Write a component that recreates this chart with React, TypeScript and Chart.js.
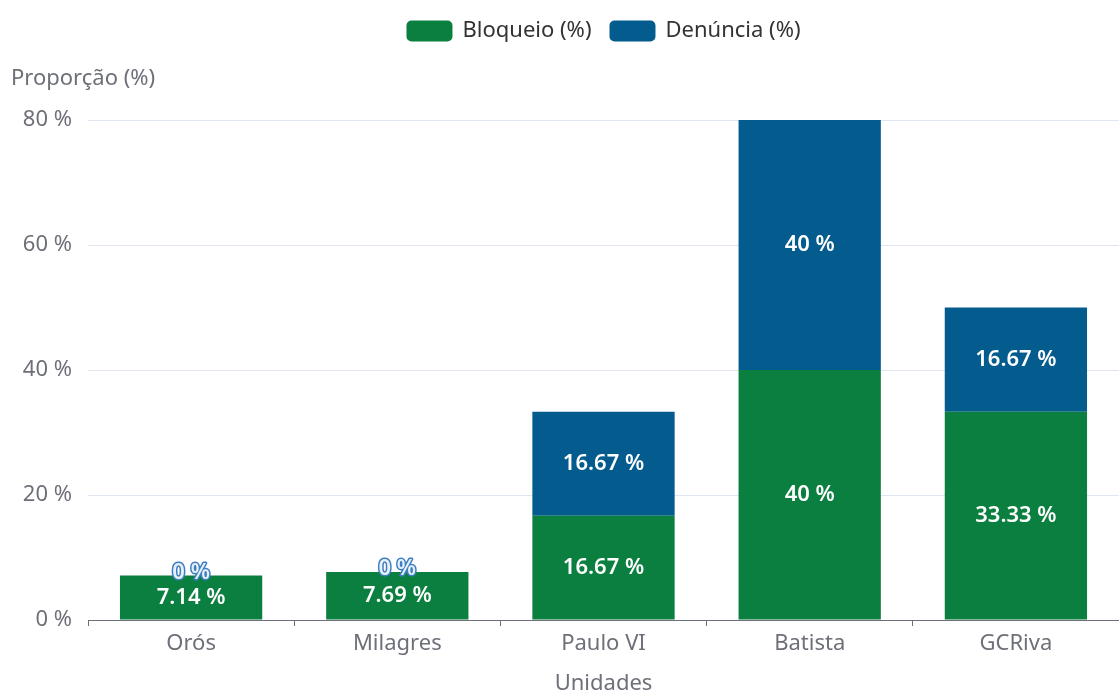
import React, { useEffect, useRef } from "react";
import { Chart, registerables } from "chart.js";

Chart.register(...registerables);

const categories = ["Orós", "Milagres", "Paulo VI", "Batista", "GCRiva"];
const bloqueio = [7.14, 7.69, 16.67, 40, 33.33];
const denuncia = [0, 0, 16.67, 40, 16.67];
const seriesNames = ["Bloqueio (%)", "Denúncia (%)"];
const seriesColors = ["#0b7f3f", "#045b8e"];
const yAxisTitle = "Proporção (%)";
const xAxisTitle = "Unidades";

const FONT = "'Noto Sans', 'DejaVu Sans', sans-serif";
const AXIS_COLOR = "#6e7079";
const FS = 22;

const labelPlugin = {
  id: "barLabels",
  afterDatasetsDraw(chart: any) {
    const ctx = chart.ctx;
    chart.data.datasets.forEach((ds: any, di: number) => {
      const meta = chart.getDatasetMeta(di);
      meta.data.forEach((bar: any, i: number) => {
        const v = ds.data[i];
        const { x, y, base } = bar.getProps(["x", "y", "base"], true);
        const cy = (y + base) / 2;
        const text = `${v} %`;
        ctx.save();
        ctx.font = `600 ${FS}px ${FONT}`;
        ctx.textAlign = "center";
        ctx.textBaseline = "middle";
        if (v === 0) {
          ctx.lineWidth = 3;
          ctx.lineJoin = "round";
          ctx.strokeStyle = "#3d7fc0";
          ctx.strokeText(text, x, cy - 3);
          ctx.fillStyle = "#e8f0fa";
          ctx.fillText(text, x, cy - 3);
        } else {
          ctx.fillStyle = "#ffffff";
          ctx.fillText(text, x, cy);
        }
        ctx.restore();
      });
    });
  },
};

const decorPlugin = {
  id: "decor",
  afterDraw(chart: any) {
    const ctx = chart.ctx;
    const area = chart.chartArea;
    ctx.save();
    // y axis title
    ctx.font = `${FS}px ${FONT}`;
    ctx.fillStyle = AXIS_COLOR;
    ctx.textAlign = "left";
    ctx.textBaseline = "middle";
    ctx.fillText(yAxisTitle, 11, 79);
    // legend
    const boxW = 46;
    const boxH = 21;
    const gapBoxText = 10;
    const gapItems = 18;
    ctx.font = `${FS}px ${FONT}`;
    const widths = seriesNames.map((n) => ctx.measureText(n).width);
    const total =
      widths.reduce((a, w) => a + boxW + gapBoxText + w, 0) + gapItems * (seriesNames.length - 1);
    let x = (area.left + area.right) / 2 - total / 2;
    const cy = 31;
    seriesNames.forEach((n, i) => {
      ctx.fillStyle = seriesColors[i];
      ctx.beginPath();
      (ctx as any).roundRect(x, cy - boxH / 2, boxW, boxH, 5);
      ctx.fill();
      ctx.fillStyle = "#333333";
      ctx.textAlign = "left";
      ctx.textBaseline = "middle";
      ctx.fillText(n, x + boxW + gapBoxText, cy);
      x += boxW + gapBoxText + widths[i] + gapItems;
    });
    ctx.restore();
  },
};

export default function App() {
  const ref = useRef<HTMLCanvasElement | null>(null);

  useEffect(() => {
    if (!ref.current) return;
    Chart.defaults.font.family = FONT;
    const chart = new Chart(ref.current, {
      type: "bar",
      data: {
        labels: categories,
        datasets: [
          {
            label: seriesNames[0],
            data: bloqueio,
            backgroundColor: seriesColors[0],
            categoryPercentage: 1,
            barPercentage: 0.69,
          },
          {
            label: seriesNames[1],
            data: denuncia,
            backgroundColor: seriesColors[1],
            categoryPercentage: 1,
            barPercentage: 0.69,
          },
        ],
      },
      options: {
        animation: false,
        responsive: true,
        maintainAspectRatio: false,
        layout: { padding: { top: 120, left: 0, right: 0, bottom: 0 } },
        plugins: {
          legend: { display: false },
          tooltip: { enabled: false },
        },
        scales: {
          x: {
            stacked: true,
            offset: true,
            afterFit(scale: any) {
              scale.height = 75;
            },
            grid: {
              offset: true,
              drawOnChartArea: false,
              drawTicks: true,
              tickLength: 6,
              tickColor: AXIS_COLOR,
            },
            border: { display: true, color: AXIS_COLOR, width: 1 },
            ticks: {
              color: AXIS_COLOR,
              font: { size: FS },
              padding: 5,
            },
            title: {
              display: true,
              text: xAxisTitle,
              color: AXIS_COLOR,
              font: { size: FS, lineHeight: 1 },
              padding: { top: 0, bottom: 0 },
            },
          },
          y: {
            stacked: true,
            min: 0,
            max: 80,
            afterFit(scale: any) {
              scale.width = 88;
            },
            grid: {
              color: "#e0e6f1",
              drawTicks: false,
            },
            border: { display: false },
            ticks: {
              stepSize: 20,
              color: AXIS_COLOR,
              font: { size: FS },
              padding: 16,
              callback: (v: any) => `${v} %`,
            },
          },
        },
      },
      plugins: [labelPlugin, decorPlugin],
    });
    return () => chart.destroy();
  }, []);

  return (
    <div style={{ position: "absolute", left: 0, top: 0, width: 1119, height: 695 }}>
      <canvas ref={ref} />
    </div>
  );
}
